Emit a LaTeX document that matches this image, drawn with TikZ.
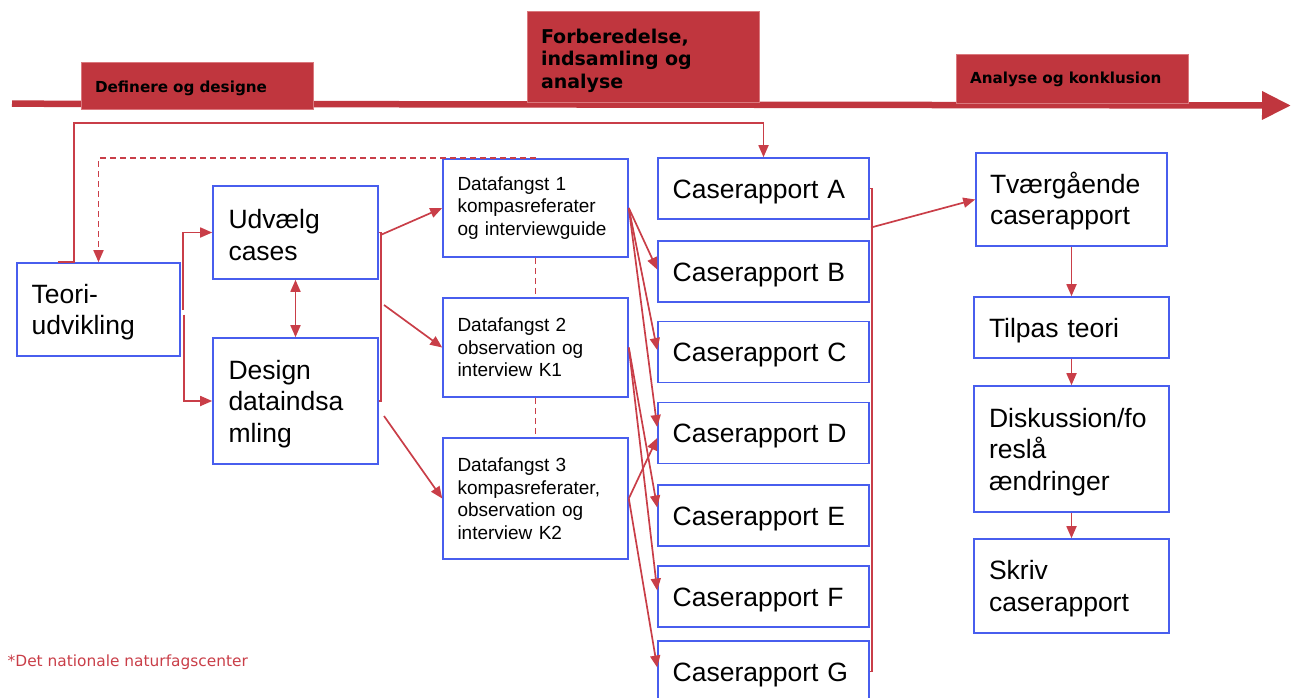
\documentclass[tikz,border=0pt]{standalone}
\usepackage{fontspec}
\setmainfont{Liberation Sans}
\newfontfamily\verd{DejaVu Sans}
\usetikzlibrary{arrows.meta,calc}
\definecolor{hdrred}{RGB}{192,54,62}
\definecolor{hdredge}{RGB}{218,120,125}
\definecolor{lnred}{RGB}{201,62,72}
\definecolor{boxblue}{RGB}{72,94,238}
\begin{document}
\begin{tikzpicture}[x=1pt,y=-1pt,
  box/.style={draw=boxblue, line width=1.6pt, rectangle, inner sep=0pt, align=left,
    font=\fontsize{26.5}{31.5}\selectfont, execute at begin node={\rule{0pt}{24.5pt}}},
  cbox/.style={box, minimum width=211pt, minimum height=61pt, text width=181.6pt},
  dfbox/.style={draw=boxblue, line width=1.6pt, rectangle, inner sep=0pt, align=left,
    font=\fontsize{19}{22.5}\selectfont, minimum width=185pt, text width=156pt},
  hdr/.style={fill=hdrred, draw=hdredge, line width=0.8pt, inner sep=0pt, align=left,
    text=black, minimum width=232pt, text width=204pt},
  conn/.style={draw=lnred, line width=1.7pt},
  arr/.style={-{Triangle[length=12pt,width=10pt]}},
  dasheddash/.style={dash pattern=on 6pt off 4pt}
]
\useasboundingbox (0,0) rectangle (1291,697);
\clip (0,0) rectangle (1291,697);

% timeline
\coordinate (tl0) at (12,103.7);
\coordinate (tl1) at (1291,105.5);
\draw[line width=6.5pt, hdrred, -{Triangle[length=29pt,width=27pt]}] (tl0) -- (tl1);

% headers
\node[hdr, minimum height=47pt, font=\verd\bfseries\fontsize{15.2}{18}\selectfont] (h1) at (197,85.5)
  {\rule{0pt}{17pt}Definere og designe};
\node[hdr, minimum height=91pt, font=\verd\bfseries\fontsize{19}{22.5}\selectfont] (h2) at (643,56.5)
  {\rule{0pt}{22.4pt}Forberedelse,\\indsamling og\\analyse};
\node[hdr, minimum height=49pt, font=\verd\bfseries\fontsize{15.2}{18}\selectfont] (h3) at (1072,78.5)
  {\rule{0pt}{12.5pt}Analyse og konklusion};

% left column
\node[box, minimum width=163pt, minimum height=93pt, text width=133.6pt] (teori) at (98.5,309.5) {Teori-\\udvikling};
\node[box, minimum width=165pt, minimum height=93pt, text width=134pt] (udv) at (295.5,232.5) {Udvælg\\cases};
\node[box, minimum width=165pt, minimum height=126pt, text width=134pt] (des) at (295.5,401) {Design\\dataindsa\\mling};

% data capture
\node[dfbox, minimum height=98pt] (df1) at (535.5,208) {Datafangst 1\\kompasreferater\\og interviewguide};
\node[dfbox, minimum height=99pt] (df2) at (535.5,347.5) {Datafangst 2\\observation og\\interview K1};
\node[dfbox, minimum height=121pt] (df3) at (535.5,498.5) {Datafangst 3\\kompasreferater,\\observation og\\interview K2};

% case reports
\node[cbox] (cA) at (763.5,188.5) {Caserapport A};
\node[cbox] (cB) at (763.5,271.5) {Caserapport B};
\node[cbox] (cC) at (763.5,352) {Caserapport C};
\node[cbox] (cD) at (763.5,433) {Caserapport D};
\node[cbox] (cE) at (763.5,515.5) {Caserapport E};
\node[cbox] (cF) at (763.5,596.5) {Caserapport F};
\node[cbox] (cG) at (763.5,671.5) {Caserapport G};

% right column
\node[box, minimum width=191pt, minimum height=93pt, text width=163pt] (tv) at (1071.5,199.5) {Tværgående\\caserapport};
\node[box, minimum width=195pt, minimum height=61pt, text width=165pt] (til) at (1071.5,327.5) {Tilpas teori};
\node[box, minimum width=195pt, minimum height=126pt, text width=165pt] (disk) at (1071.5,449) {Diskussion/fo\\reslå\\ændringer};
\node[box, minimum width=195pt, minimum height=94pt, text width=165pt] (skriv) at (1071.5,586) {Skriv\\caserapport};

% footnote
\node[anchor=base west, inner sep=0pt, text=lnred, font=\verd\fontsize{15.4}{18}\selectfont] (note) at (7.5,666.5) {*Det nationale naturfagscenter};

% connectors: left
\draw[conn, arr] ([xshift=2pt]teori.east) |- (udv.west);
\draw[conn, arr] ([xshift=3pt,yshift=-5pt]teori.east) |- (des.west);
\draw[conn, {Triangle[length=12pt,width=10pt]}-{Triangle[length=12pt,width=10pt]}] (udv.south) -- (des.north);

\coordinate (tA) at (763.5,122.7);
\draw[conn, arr] ([xshift=-40.5pt]teori.north) -- ([xshift=-24.5pt]teori.north) |- (tA) -- (cA.north);
\draw[conn, dasheddash, arr] (df1.north) -| (teori.north);

% bracket and arrows to data capture
\draw[conn] (udv.east) -- ++(2.5,0) |- (des.east);
\coordinate (s1) at (380.5,235);
\coordinate (s2) at (384,305);
\coordinate (s3) at (384,416);
\draw[conn, arr] (s1) -- (df1.west);
\draw[conn, arr] (s2) -- (df2.west);
\draw[conn, arr] (s3) -- (df3.west);

\draw[conn, dasheddash] (df1.south) -- (df2.north);
\draw[conn, dasheddash] (df2.south) -- (df3.north);

% data capture to case reports
\draw[conn, arr] (df1.east) -- ([yshift=2pt]cB.west);
\draw[conn, arr] (df1.east) -- ([yshift=2pt]cC.west);
\draw[conn, arr] (df1.east) -- ([yshift=6pt]cD.west);
\draw[conn, arr] (df2.east) -- ([yshift=8pt]cE.west);
\draw[conn, arr] (df2.east) -- ([yshift=6pt]cF.west);
\draw[conn, arr] (df3.east) -- ([yshift=-5pt]cD.west);
\draw[conn, arr] (df3.east) -- ([yshift=4pt]cG.west);

% case bracket to cross-case report
\draw[conn] (cA.east) -- ++(2,0) |- (cG.east);
\coordinate (s4) at (871,227.5);
\draw[conn, arr] (s4) -- (tv.west);

% right column arrows
\draw[conn, arr] (tv.south) -- (til.north);
\draw[conn, arr] (til.south) -- (disk.north);
\draw[conn, arr] (disk.south) -- (skriv.north);
\end{tikzpicture}
\end{document}
